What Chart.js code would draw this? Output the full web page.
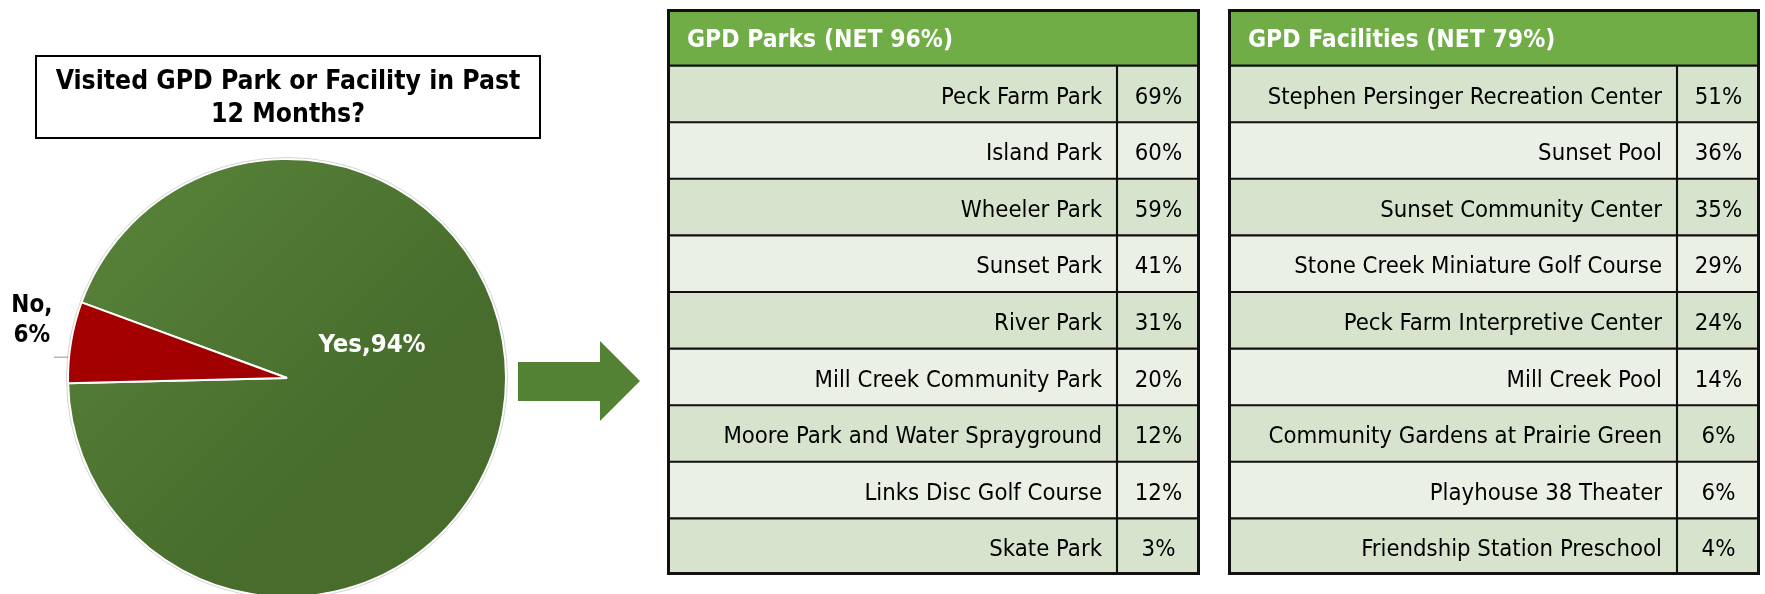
<!DOCTYPE html>
<html>
<head>
<meta charset="utf-8">
<title>Visited GPD Park or Facility</title>
<script src="https://cdn.jsdelivr.net/npm/chart.js@4.4.1/dist/chart.umd.min.js"></script>
<style>
  body {
    margin: 0;
    width: 1765px;
    height: 594px;
    overflow: hidden;
    background: #fff;
    position: relative;
    font-family: "DejaVu Sans Condensed", "DejaVu Sans", sans-serif;
  }
  canvas { position: absolute; }
  #pie { left: 0; top: 0; }
  #parks { left: 667px; top: 9px; }
  #facilities { left: 1228px; top: 9px; }
  .title-box {
    position: absolute;
    left: 35px;
    top: 55px;
    width: 506px;
    height: 84px;
    box-sizing: border-box;
    border: 2px solid #000;
    display: flex;
    align-items: center;
    justify-content: center;
    text-align: center;
    font-weight: bold;
    font-size: 26.3px;
    line-height: 33px;
    color: #000;
  }
</style>
</head>
<body>
<canvas id="pie" width="660" height="594"></canvas>
<div class="title-box">Visited GPD Park or Facility in Past<br>12 Months?</div>
<canvas id="parks" width="533" height="566"></canvas>
<canvas id="facilities" width="532" height="566"></canvas>

<script>
// DATA
const visitLabels = ['Yes', 'No'];
const visitValues = [94, 6];

const parksTitle = 'GPD Parks (NET 96%)';
const parkNames = [
  'Peck Farm Park',
  'Island Park',
  'Wheeler Park',
  'Sunset Park',
  'River Park',
  'Mill Creek Community Park',
  'Moore Park and Water Sprayground',
  'Links Disc Golf Course',
  'Skate Park'
];
const parkValues = [69, 60, 59, 41, 31, 20, 12, 12, 3];

const facilitiesTitle = 'GPD Facilities (NET 79%)';
const facilityNames = [
  'Stephen Persinger Recreation Center',
  'Sunset Pool',
  'Sunset Community Center',
  'Stone Creek Miniature Golf Course',
  'Peck Farm Interpretive Center',
  'Mill Creek Pool',
  'Community Gardens at Prairie Green',
  'Playhouse 38 Theater',
  'Friendship Station Preschool'
];
const facilityValues = [51, 36, 35, 29, 24, 14, 6, 6, 4];

// STYLE
const FONT = '"DejaVu Sans Condensed", "DejaVu Sans", sans-serif';
const HEADER_GREEN = '#70ad47';
const ROW_DARK = '#d7e3cd';
const ROW_LIGHT = '#eaf0e6';
const ARROW_GREEN = '#548235';
const PIE_RADIUS = 219;
// light / dark ends of each slice's sheen
const sliceShades = [['#5a853b', '#476c2c'], ['#aa0000', '#9c0000']];

function deg(a) { return a * Math.PI / 180; }

// PIE
// slice fill with a soft light-to-dark sheen, like the original
function sliceFill(context) {
  const shade = sliceShades[context.dataIndex] || sliceShades[0];
  const area = context.chart.chartArea;
  if (!area) return shade[1];
  const cx = (area.left + area.right) / 2;
  const cy = (area.top + area.bottom) / 2;
  const r = PIE_RADIUS;
  const g = context.chart.ctx.createLinearGradient(cx - r, cy - r, cx + r * 0.3, cy + r * 0.3);
  g.addColorStop(0, shade[0]);
  g.addColorStop(1, shade[1]);
  return g;
}

const pieExtras = {
  id: 'pieExtras',
  afterDatasetsDraw(chart) {
    const ctx = chart.ctx;
    const arcs = chart.getDatasetMeta(0).data;
    const cx = arcs[0].x, cy = arcs[0].y, r = arcs[0].outerRadius;

    ctx.save();
    // thin grey rim
    ctx.strokeStyle = '#d4d4d4';
    ctx.lineWidth = 1;
    ctx.beginPath();
    ctx.arc(cx, cy, r + 1.5, 0, Math.PI * 2);
    ctx.stroke();

    ctx.textAlign = 'center';
    ctx.textBaseline = 'middle';

    // Yes label inside the big slice
    ctx.font = 'bold 25.5px ' + FONT;
    ctx.fillStyle = '#fff';
    const yesA = deg(-22.4), yesD = r * 0.42;
    ctx.fillText(visitLabels[0] + ',' + visitValues[0] + '%', cx + Math.cos(yesA) * yesD, cy + Math.sin(yesA) * yesD + 2);

    // No label outside on the left, with a short leader
    ctx.font = 'bold 24px ' + FONT;
    const noA = deg(193.2), noD = r + 43;
    const lx = cx + Math.cos(noA) * noD, ly = cy + Math.sin(noA) * noD;
    ctx.fillStyle = '#000';
    ctx.fillText(visitLabels[1] + ',', lx, ly - 12);
    ctx.fillText(visitValues[1] + '%', lx, ly + 18);

    ctx.strokeStyle = '#a6a6a6';
    ctx.lineWidth = 1.2;
    ctx.beginPath();
    ctx.moveTo(lx + 22, ly + 39);
    ctx.lineTo(cx - r + 0.5, ly + 39);
    ctx.stroke();

    // arrow pointing to the tables
    ctx.fillStyle = ARROW_GREEN;
    ctx.beginPath();
    ctx.moveTo(518, 362);
    ctx.lineTo(600, 362);
    ctx.lineTo(600, 341);
    ctx.lineTo(640, 381);
    ctx.lineTo(600, 421);
    ctx.lineTo(600, 401);
    ctx.lineTo(518, 401);
    ctx.closePath();
    ctx.fill();
    ctx.restore();
  }
};

new Chart(document.getElementById('pie'), {
  type: 'pie',
  data: {
    labels: visitLabels,
    datasets: [{
      data: visitValues,
      backgroundColor: sliceFill,
      borderColor: '#ffffff',
      borderWidth: 2,
      radius: PIE_RADIUS
    }]
  },
  options: {
    responsive: false,
    animation: false,
    rotation: 290.2,
    layout: { padding: { left: 67, right: 153, top: 162, bottom: 0 } },
    plugins: {
      legend: { display: false },
      tooltip: { enabled: false }
    }
  },
  plugins: [pieExtras]
});

// TABLES
// each table is a stacked horizontal bar chart: one category per row,
// first bar is the name cell, second bar is the percentage cell
function tableText(names, values) {
  return {
    id: 'tableText',
    afterDatasetsDraw(chart) {
      const ctx = chart.ctx;
      const nameCells = chart.getDatasetMeta(0).data;
      const valueCells = chart.getDatasetMeta(1).data;
      const area = chart.chartArea;
      ctx.save();
      ctx.textBaseline = 'middle';

      // header
      const head = nameCells[0];
      ctx.fillStyle = '#fff';
      ctx.font = 'bold 24.5px ' + FONT;
      ctx.textAlign = 'left';
      ctx.fillText(chart.data.labels[0], head.base + 20, head.y + 3);

      ctx.fillStyle = '#000';
      ctx.font = '23.7px ' + FONT;
      for (let i = 0; i < names.length; i++) {
        const nameBar = nameCells[i + 1];
        const valBar = valueCells[i + 1];
        ctx.textAlign = 'right';
        ctx.fillText(names[i], nameBar.x - 15, nameBar.y + 3.5);
        ctx.textAlign = 'center';
        ctx.fillText(values[i] + '%', (valBar.base + valBar.x) / 2, valBar.y + 3.5);
      }

      // outer frame
      ctx.strokeStyle = '#111';
      ctx.lineWidth = 3;
      ctx.strokeRect(area.left + 1.5, area.top + 1.5, area.width - 3, area.height - 3);
      ctx.restore();
    }
  };
}

function makeTable(canvasId, title, names, values, nameWidth, valueWidth) {
  const rows = [title].concat(names);
  const full = nameWidth + valueWidth;
  const fills = rows.map(function(r, i) {
    if (i === 0) return HEADER_GREEN;
    return i % 2 ? ROW_DARK : ROW_LIGHT;
  });
  const cellStyle = {
    backgroundColor: fills,
    borderColor: '#111',
    borderWidth: 1.4,
    borderSkipped: false,
    barPercentage: 1,
    categoryPercentage: 1
  };
  new Chart(document.getElementById(canvasId), {
    type: 'bar',
    data: {
      labels: rows,
      datasets: [
        Object.assign({ label: 'name', data: rows.map(function(r, i) { return i === 0 ? full : nameWidth; }) }, cellStyle),
        Object.assign({ label: 'value', data: rows.map(function(r, i) { return i === 0 ? null : valueWidth; }) }, cellStyle)
      ]
    },
    options: {
      indexAxis: 'y',
      responsive: false,
      animation: false,
      layout: { padding: 0 },
      scales: {
        x: { stacked: true, display: false, min: 0, max: full },
        y: { stacked: true, display: false }
      },
      plugins: {
        legend: { display: false },
        tooltip: { enabled: false }
      }
    },
    plugins: [tableText(names, values)]
  });
}

makeTable('parks', parksTitle, parkNames, parkValues, 450, 83);
makeTable('facilities', facilitiesTitle, facilityNames, facilityValues, 449, 83);
</script>
</body>
</html>
